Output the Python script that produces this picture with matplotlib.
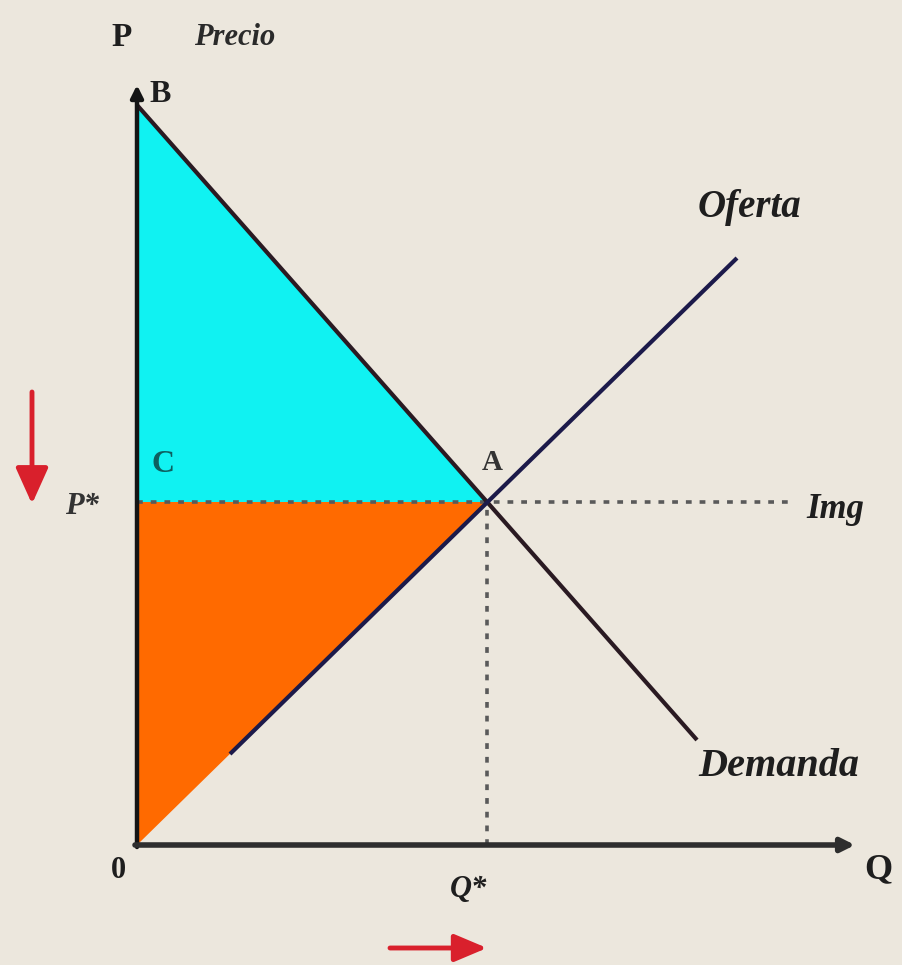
import matplotlib.pyplot as plt
from matplotlib.patches import Polygon

# equilibrium and curves (units: 1 = 100 px of the reference)
q_star = 3.5
p_star = 3.43
demand_q = [0.0, 5.6]
demand_p = [7.4, 1.05]
supply_q = [0.93, 6.0]
supply_p = [0.91, 5.87]
supply_origin = [0.0, 0.0]
img_end = 6.53
axis_top = 7.6
axis_right = 7.18

bg = "#ECE7DD"
serif = ["Liberation Serif", "DejaVu Serif"]

fig = plt.figure(figsize=(9.03, 9.65), dpi=100, facecolor=bg)
ax = fig.add_axes([0, 0, 1, 1])
ax.set_facecolor(bg)
ax.set_xlim(-1.37, 7.66)
ax.set_ylim(-1.20, 8.45)
ax.axis("off")

# surplus areas
cyan = Polygon([(0, p_star), (0, demand_p[0]), (q_star, p_star)],
               closed=True, facecolor="#10F2F2", edgecolor="none", zorder=1)
orange = Polygon([tuple(supply_origin), (0, p_star), (q_star, p_star)],
                 closed=True, facecolor="#FF6A00", edgecolor="none", zorder=1)
ax.add_patch(cyan)
ax.add_patch(orange)

# dotted guides
ax.plot([0, img_end], [p_star, p_star], color="#5a5a5a", lw=2.6,
        ls=(0, (1.6, 2.2)), zorder=2)
ax.plot([q_star, q_star], [0, p_star], color="#5a5a5a", lw=2.6,
        ls=(0, (1.6, 2.2)), zorder=2)

# curves
ax.plot(demand_q, demand_p, color="#2a1a22", lw=3.0, solid_capstyle="butt", zorder=3)
ax.plot(supply_q, supply_p, color="#1c1a4a", lw=3.0, solid_capstyle="butt", zorder=3)

# axes with arrows
ax.annotate("", xy=(0, axis_top), xytext=(0, -0.02),
            arrowprops=dict(arrowstyle="-|>", lw=3.2, color="#141414",
                            mutation_scale=18, shrinkA=0, shrinkB=0), zorder=4)
ax.annotate("", xy=(axis_right, 0), xytext=(-0.02, 0),
            arrowprops=dict(arrowstyle="-|>", lw=4.0, color="#2e2e2e",
                            mutation_scale=20, shrinkA=0, shrinkB=0), zorder=4)

# red arrows
red = "#D9202C"
ax.annotate("", xy=(-1.05, p_star - 0.02), xytext=(-1.05, p_star + 1.1),
            arrowprops=dict(arrowstyle="-|>,head_width=0.45,head_length=1.0",
                            lw=3.5, color=red, mutation_scale=22,
                            shrinkA=0, shrinkB=0))
ax.annotate("", xy=(q_star, -1.03), xytext=(q_star - 0.97, -1.03),
            arrowprops=dict(arrowstyle="-|>,head_width=0.38,head_length=0.9",
                            lw=3.5, color=red, mutation_scale=22,
                            shrinkA=0, shrinkB=0))

# labels
dark = "#1e1e1e"
ax.text(-0.15, 8.07, "P", family=serif, weight="bold", fontsize=24,
        color=dark, ha="center", va="center")
ax.text(0.98, 8.07, "Precio", family=serif, weight="bold", style="italic",
        fontsize=22, color="#2a2a2a", ha="center", va="center")
ax.text(0.23, 7.5, "B", family=serif, weight="bold", fontsize=23,
        color=dark, ha="center", va="center")
ax.text(0.26, 3.8, "C", family=serif, weight="bold", fontsize=23,
        color="#0d5f60", ha="center", va="center")
ax.text(q_star + 0.05, 3.82, "A", family=serif, weight="bold", fontsize=21,
        color="#333333", ha="center", va="center")
ax.text(-0.55, p_star - 0.05, "P*", family=serif, weight="bold",
        style="italic", fontsize=22, color="#333333", ha="center", va="center")
ax.text(6.98, p_star - 0.08, "Img", family=serif, weight="bold",
        style="italic", fontsize=25, color=dark, ha="center", va="center")
ax.text(6.12, 6.37, "Oferta", family=serif, weight="bold", style="italic",
        fontsize=28, color=dark, ha="center", va="center")
ax.text(6.42, 0.78, "Demanda", family=serif, weight="bold", style="italic",
        fontsize=29, color=dark, ha="center", va="center")
ax.text(-0.19, -0.25, "0", family=serif, weight="bold", fontsize=22,
        color=dark, ha="center", va="center")
ax.text(7.41, -0.25, "Q", family=serif, weight="bold", fontsize=26,
        color=dark, ha="center", va="center")
ax.text(q_star - 0.18, -0.45, "Q*", family=serif, weight="bold",
        style="italic", fontsize=22, color=dark, ha="center", va="center")

fig.savefig("out.png", dpi=100, facecolor=bg)
